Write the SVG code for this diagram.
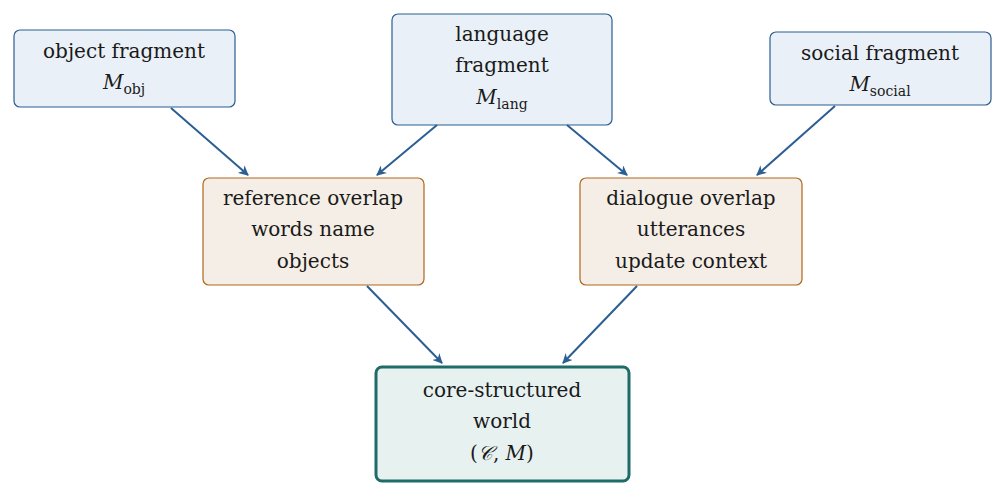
<svg xmlns="http://www.w3.org/2000/svg" width="1006" height="498" viewBox="0 0 1006 498">
<style>
text{font-family:"DejaVu Serif",serif;font-size:20px;fill:#1a1a1a;text-anchor:middle}
.sub{font-size:14px}
.b{fill:#e9f0f7;stroke:#2b5e92;stroke-width:1.2}
.o{fill:#f4eee6;stroke:#b0661c;stroke-width:1.2}
.t{fill:#e7f1f0;stroke:#1e6b68;stroke-width:3}
.e{stroke:#2b5e92;stroke-width:2;fill:none;marker-end:url(#a)}
</style>
<defs><marker id="a" viewBox="0 0 10 10" refX="9" refY="5" markerWidth="5" markerHeight="5" orient="auto"><path d="M0,0 L10,5 L0,10 L3,5 Z" fill="#2b5e92"/></marker></defs>
<g id="obj"><rect class="b" x="14" y="30" width="221" height="77" rx="6"/><text x="124" y="58">object fragment</text><text x="124" y="89"><tspan font-style="italic">M</tspan><tspan class="sub" dy="5">obj</tspan></text></g>
<g id="lang"><rect class="b" x="392" y="14" width="220" height="111" rx="6"/><text x="502" y="41">language</text><text x="502" y="72">fragment</text><text x="502" y="104"><tspan font-style="italic">M</tspan><tspan class="sub" dy="5">lang</tspan></text></g>
<g id="social"><rect class="b" x="770" y="32" width="221" height="73" rx="6"/><text x="880" y="60">social fragment</text><text x="880" y="91"><tspan font-style="italic">M</tspan><tspan class="sub" dy="5">social</tspan></text></g>
<g id="ref"><rect class="o" x="203" y="178" width="221" height="107" rx="6"/><text x="313" y="205">reference overlap</text><text x="313" y="236">words name</text><text x="313" y="268">objects</text></g>
<g id="dia"><rect class="o" x="580" y="178" width="222" height="107" rx="6"/><text x="691" y="205">dialogue overlap</text><text x="691" y="236">utterances</text><text x="691" y="268">update context</text></g>
<g id="core"><rect class="t" x="376" y="367" width="253" height="114" rx="6"/><text x="502" y="397">core-structured</text><text x="502" y="428">world</text><text x="502" y="460">(<tspan font-style="italic">𝒞</tspan>, <tspan font-style="italic">M</tspan>)</text></g>
<g id="edges">
<line class="e" x1="171" y1="108" x2="248" y2="175"/>
<line class="e" x1="437" y1="125" x2="377" y2="175"/>
<line class="e" x1="567" y1="125" x2="627" y2="175"/>
<line class="e" x1="835" y1="106" x2="757" y2="175"/>
<line class="e" x1="367" y1="286" x2="442" y2="363"/>
<line class="e" x1="637" y1="286" x2="563" y2="363"/>
</g>
</svg>
